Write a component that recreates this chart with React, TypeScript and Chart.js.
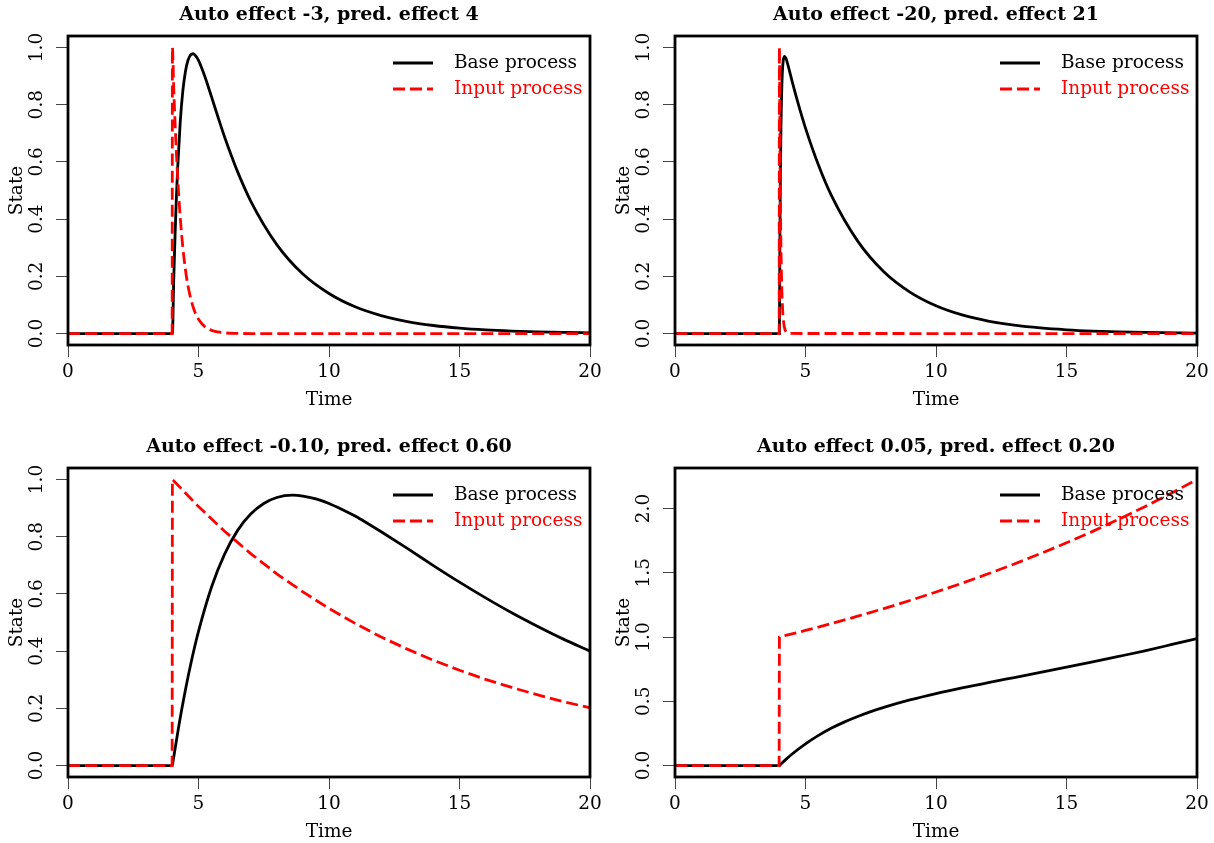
import React, { useEffect, useRef } from 'react';
import { Chart, registerables } from 'chart.js';

Chart.register(...registerables);

const FONT = '"DejaVu Serif", "Liberation Serif", serif';
const LABEL_SIZE = 18.5;
const TITLE_SIZE = 19;

// ---- text ----
const panelTitles = [
  'Auto effect -3, pred. effect 4',
  'Auto effect -20, pred. effect 21',
  'Auto effect -0.10, pred. effect 0.60',
  'Auto effect 0.05, pred. effect 0.20',
];
const seriesLabels = ['Base process', 'Input process'];
const xAxisTitle = 'Time';
const yAxisTitle = 'State';

// ---- ticks ----
const xTicks = [0, 5, 10, 15, 20];
const yTicksUnit = [0, 0.2, 0.4, 0.6, 0.8, 1.0];
const yTicksWide = [0, 0.5, 1.0, 1.5, 2.0];

// ---- panel 1: auto -3, pred 4 ----
const p1BaseTime = [0, 4, 4.05, 4.1, 4.15, 4.2, 4.3, 4.4, 4.5, 4.6, 4.7, 4.8, 4.9, 5, 5.25, 5.5, 5.75, 6, 6.25, 6.5, 7, 8, 9, 10, 11, 12, 13, 14, 15, 16, 17, 18, 19, 20];
const p1Base = [0, 0, 0.184, 0.338, 0.468, 0.576, 0.739, 0.848, 0.916, 0.956, 0.974, 0.978, 0.97, 0.955, 0.897, 0.827, 0.756, 0.687, 0.624, 0.565, 0.463, 0.311, 0.208, 0.14, 0.0935, 0.0628, 0.042, 0.0282, 0.0189, 0.0126, 0.0085, 0.0057, 0.0038, 0.0026];
const p1InputTime = [0, 3.99, 4, 4.05, 4.1, 4.15, 4.2, 4.3, 4.4, 4.5, 4.6, 4.8, 5, 5.25, 5.5, 6, 6.5, 7, 20];
const p1Input = [0, 0, 1, 0.861, 0.741, 0.638, 0.549, 0.407, 0.301, 0.223, 0.165, 0.091, 0.05, 0.0235, 0.0111, 0.0025, 0.0006, 0.0001, 0];

// ---- panel 2: auto -20, pred 21 ----
const p2BaseTime = [0, 4, 4.02, 4.04, 4.06, 4.08, 4.1, 4.125, 4.15, 4.2, 4.25, 4.3, 4.4, 4.5, 4.75, 5, 5.5, 6, 7, 8, 9, 10, 11, 12, 13, 14, 15, 16, 17, 18, 20];
const p2Base = [0, 0, 0.345, 0.573, 0.723, 0.821, 0.884, 0.931, 0.956, 0.969, 0.962, 0.948, 0.913, 0.877, 0.794, 0.718, 0.588, 0.481, 0.323, 0.216, 0.145, 0.0972, 0.0651, 0.0437, 0.0293, 0.0196, 0.0132, 0.0088, 0.0059, 0.004, 0.0018];
const p2InputTime = [0, 3.99, 4, 4.02, 4.04, 4.06, 4.08, 4.1, 4.125, 4.15, 4.2, 4.25, 4.3, 4.4, 20];
const p2Input = [0, 0, 1, 0.67, 0.449, 0.301, 0.202, 0.135, 0.082, 0.05, 0.018, 0.0067, 0.0025, 0.0003, 0];

// ---- panel 3: auto -0.10, pred 0.60 ----
const p3BaseTime = [0, 4, 4.02, 4.25, 4.5, 4.75, 5, 5.5, 6, 6.5, 7, 7.5, 8, 8.6, 9, 9.5, 10, 10.5, 11, 11.5, 12, 13, 14, 15, 16, 17, 18, 19, 20];
const p3Base = [0, 0, 0.0119, 0.141, 0.265, 0.374, 0.469, 0.624, 0.739, 0.822, 0.879, 0.916, 0.937, 0.945, 0.942, 0.932, 0.916, 0.895, 0.872, 0.845, 0.817, 0.759, 0.699, 0.641, 0.586, 0.534, 0.486, 0.441, 0.4];
const p3InputTime = [0, 3.99, 4, 5, 6, 7, 8, 9, 10, 11, 12, 13, 14, 15, 16, 17, 18, 19, 20];
const p3Input = [0, 0, 1, 0.905, 0.819, 0.741, 0.67, 0.607, 0.549, 0.497, 0.449, 0.407, 0.368, 0.333, 0.301, 0.273, 0.247, 0.223, 0.202];

// ---- panel 4: auto 0.05, pred 0.20 ----
const p4BaseTime = [0, 4, 4.05, 4.25, 4.5, 5, 5.5, 6, 6.5, 7, 7.5, 8, 9, 10, 11, 12, 13, 14, 15, 16, 17, 18, 19, 20];
const p4Base = [0, 0, 0.0099, 0.048, 0.092, 0.169, 0.235, 0.2915, 0.34, 0.382, 0.42, 0.453, 0.5105, 0.56, 0.604, 0.645, 0.685, 0.725, 0.765, 0.806, 0.849, 0.893, 0.94, 0.988];
const p4InputTime = [0, 3.99, 4, 5, 6, 7, 8, 9, 10, 11, 12, 13, 14, 15, 16, 17, 18, 19, 20];
const p4Input = [0, 0, 1, 1.051, 1.105, 1.162, 1.221, 1.284, 1.35, 1.419, 1.492, 1.568, 1.649, 1.733, 1.822, 1.916, 2.014, 2.117, 2.226];

// ---- axis ranges ----
const yRangeUnit = [-0.04, 1.04];
const yRangeWide = [-0.089, 2.315];

type Panel = {
  title: string;
  baseT: number[];
  baseV: number[];
  inT: number[];
  inV: number[];
  yRange: number[];
  yTicks: number[];
  inputCurved: boolean;
};

const panels: Panel[] = [
  { title: panelTitles[0], baseT: p1BaseTime, baseV: p1Base, inT: p1InputTime, inV: p1Input, yRange: yRangeUnit, yTicks: yTicksUnit, inputCurved: true },
  { title: panelTitles[1], baseT: p2BaseTime, baseV: p2Base, inT: p2InputTime, inV: p2Input, yRange: yRangeUnit, yTicks: yTicksUnit, inputCurved: true },
  { title: panelTitles[2], baseT: p3BaseTime, baseV: p3Base, inT: p3InputTime, inV: p3Input, yRange: yRangeUnit, yTicks: yTicksUnit, inputCurved: false },
  { title: panelTitles[3], baseT: p4BaseTime, baseV: p4Base, inT: p4InputTime, inV: p4Input, yRange: yRangeWide, yTicks: yTicksWide, inputCurved: false },
];

const zip = (t: number[], v: number[]) => t.map((x, i) => ({ x, y: v[i] }));

const boxPlugin = {
  id: 'rbox',
  afterDraw(chart: any) {
    const { ctx, chartArea: a } = chart;
    ctx.save();
    ctx.strokeStyle = '#000';
    ctx.lineWidth = 2.8;
    ctx.strokeRect(a.left, a.top, a.right - a.left, a.bottom - a.top);
    ctx.restore();
  },
};

const legendPlugin = {
  id: 'rlegend',
  afterDatasetsDraw(chart: any) {
    const { ctx, chartArea: a } = chart;
    chart.data.datasets.forEach((ds: any, i: number) => {
      const y = a.top + 27 + i * 26;
      ctx.save();
      ctx.strokeStyle = ds.borderColor;
      ctx.lineWidth = ds.borderWidth;
      ctx.setLineDash(ds.borderDash || []);
      ctx.beginPath();
      ctx.moveTo(a.right - 197, y);
      ctx.lineTo(a.right - 157, y);
      ctx.stroke();
      ctx.setLineDash([]);
      ctx.fillStyle = ds.borderColor;
      ctx.font = `${LABEL_SIZE}px ${FONT}`;
      ctx.textBaseline = 'middle';
      ctx.textAlign = 'left';
      ctx.fillText(ds.label, a.right - 136, y);
      ctx.restore();
    });
  },
};

function makeConfig(p: Panel): any {
  const labelFont = { family: FONT, size: LABEL_SIZE };
  const grid = {
    drawOnChartArea: false,
    drawTicks: true,
    tickLength: 12,
    color: '#444',
    lineWidth: 1,
  };
  const inputStyle: any = p.inputCurved
    ? { cubicInterpolationMode: 'monotone' }
    : { cubicInterpolationMode: 'default', tension: 0 };
  return {
    type: 'line',
    data: {
      datasets: [
        {
          label: seriesLabels[0],
          data: zip(p.baseT, p.baseV),
          borderColor: '#000000',
          borderWidth: 2.8,
          pointRadius: 0,
          cubicInterpolationMode: 'monotone',
          fill: false,
          order: 2,
        },
        {
          label: seriesLabels[1],
          data: zip(p.inT, p.inV),
          borderColor: '#ff0000',
          borderWidth: 2.8,
          borderDash: [12, 5],
          pointRadius: 0,
          fill: false,
          order: 1,
          ...inputStyle,
        },
      ],
    },
    options: {
      animation: false,
      responsive: false,
      maintainAspectRatio: false,
      layout: { padding: { left: 0, right: 17, top: 0, bottom: 0 } },
      plugins: {
        legend: { display: false },
        tooltip: { enabled: false },
        title: {
          display: true,
          text: p.title,
          fullSize: false,
          color: '#000',
          font: { family: FONT, size: TITLE_SIZE, weight: 'bold' },
          padding: { top: 4, bottom: 36 - 4 - TITLE_SIZE * 1.2 },
        },
      },
      scales: {
        x: {
          type: 'linear',
          min: 0,
          max: 20,
          afterBuildTicks: (s: any) => {
            s.ticks = xTicks.map((v) => ({ value: v }));
          },
          afterFit: (s: any) => {
            s.height = 66;
          },
          grid,
          border: { display: false },
          ticks: {
            color: '#000',
            font: labelFont,
            padding: 4,
            maxRotation: 0,
            minRotation: 0,
            autoSkip: false,
            callback: (v: any) => String(v),
          },
          title: {
            display: true,
            text: xAxisTitle,
            color: '#000',
            font: labelFont,
            padding: { top: 0, bottom: 0 },
          },
        },
        y: {
          type: 'linear',
          min: p.yRange[0],
          max: p.yRange[1],
          afterBuildTicks: (s: any) => {
            s.ticks = p.yTicks.map((v) => ({ value: v }));
          },
          afterFit: (s: any) => {
            s.width = 68;
          },
          grid,
          border: { display: false },
          ticks: {
            color: '#000',
            font: labelFont,
            padding: 4,
            minRotation: 90,
            maxRotation: 90,
            crossAlign: 'center',
            autoSkip: false,
            callback: (v: any) => Number(v).toFixed(1),
          },
          title: {
            display: true,
            text: yAxisTitle,
            color: '#000',
            font: labelFont,
            padding: { top: 6, bottom: 0 },
          },
        },
      },
    },
    plugins: [legendPlugin, boxPlugin],
  };
}

const PANEL_W = 607;
const PANEL_H = 411;

function PanelChart({ panel, left, top }: { panel: Panel; left: number; top: number }) {
  const ref = useRef<HTMLCanvasElement>(null);
  useEffect(() => {
    const chart = new Chart(ref.current as HTMLCanvasElement, makeConfig(panel));
    return () => chart.destroy();
  }, [panel]);
  return (
    <canvas
      ref={ref}
      width={PANEL_W}
      height={PANEL_H}
      style={{ position: 'absolute', left, top, width: PANEL_W, height: PANEL_H, display: 'block' }}
    />
  );
}

export default function App() {
  const positions = [
    [0, 0],
    [607, 0],
    [0, 432],
    [607, 432],
  ];
  return (
    <div style={{ position: 'absolute', left: 0, top: 0, width: 1214, height: 843, background: '#fff' }}>
      {panels.map((p, i) => (
        <PanelChart key={i} panel={p} left={positions[i][0]} top={positions[i][1]} />
      ))}
    </div>
  );
}
